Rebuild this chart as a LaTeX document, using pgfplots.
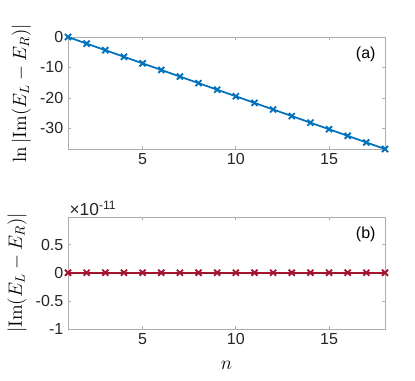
\documentclass[border=0pt]{standalone}
\usepackage[no-math]{fontspec}
\setmainfont{Liberation Sans}
\usepackage{pgfplots}
\pgfplotsset{compat=1.18}

\definecolor{mblue}{rgb}{0,0.447,0.741}
\definecolor{mred}{rgb}{0.635,0.078,0.184}
\definecolor{axgray}{gray}{0.68}

\pgfplotsset{
  panel/.style={
    scale only axis, width=237.75pt, height=84pt,
    xmin=1, xmax=18, xtick={5,10,15},
    axis line style={axgray, line width=0.5pt},
    tick style={axgray, line width=0.5pt},
    major tick length=2.5pt,
    tick align=inside,
    xtick pos=both, ytick pos=both,
    ticklabel style={font=\fontsize{12}{14}\selectfont, text=black!85},
    /pgf/number format/assume math mode=true,
    label style={font=\fontsize{14}{16}\selectfont},
    clip=false,
  },
}

\begin{document}
\begin{tikzpicture}
\useasboundingbox (0,0) rectangle (311.25pt,285pt);

\begin{axis}[panel, at={(51pt,173.25pt)}, anchor=south west,
  ymin=-36.82, ymax=0, ytick={-30,-20,-10,0},
  ylabel={$\ln|\mathrm{Im}(E_L-E_R)|$},
]
\addplot[mblue, line width=1.3pt, mark=x, mark size=3.2pt, mark options={line width=1.4pt}]
  coordinates {(1,0) (2,-2.17) (3,-4.33) (4,-6.50) (5,-8.66) (6,-10.83)
  (7,-13.00) (8,-15.16) (9,-17.33) (10,-19.49) (11,-21.66) (12,-23.83)
  (13,-25.99) (14,-28.16) (15,-30.32) (16,-32.49) (17,-34.66) (18,-36.82)};
\node[anchor=north east, font=\fontsize{12}{14}\selectfont] at (rel axis cs:0.985,0.95) {(a)};
\end{axis}

\begin{axis}[panel, at={(51pt,38.25pt)}, anchor=south west,
  ymin=-1, ymax=0.99, ytick={-1,-0.5,0,0.5},
  yticklabels={-1,-0.5,0,0.5},
  ylabel={$|\mathrm{Im}(E_L-E_R)|$},
  xlabel={$n$}, xlabel style={yshift=-5pt},
]
\addplot[mred, line width=1.3pt, mark=x, mark size=3.2pt, mark options={line width=1.4pt}]
  coordinates {(1,0) (2,0) (3,0) (4,0) (5,0) (6,0) (7,0) (8,0) (9,0)
  (10,0) (11,0) (12,0) (13,0) (14,0) (15,0) (16,0) (17,0) (18,0)};
\node[anchor=north east, font=\fontsize{12}{14}\selectfont] at (rel axis cs:0.985,0.95) {(b)};
\node[anchor=south west, inner sep=1pt, font=\fontsize{13}{15}\selectfont, text=black!85] at (rel axis cs:0,1) {×10\textsuperscript{-11}};
\end{axis}
\end{tikzpicture}
\end{document}
